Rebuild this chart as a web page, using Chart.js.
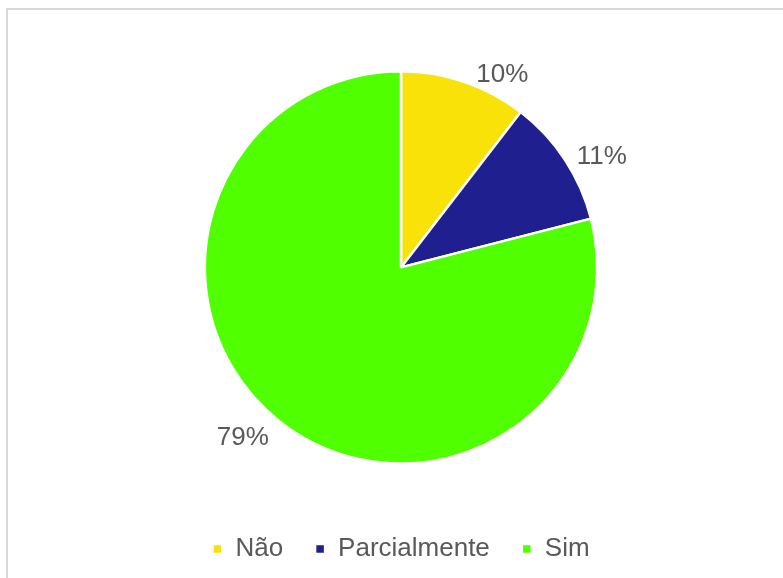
<!DOCTYPE html>
<html>
<head>
<meta charset="utf-8">
<script src="https://cdn.jsdelivr.net/npm/chart.js@4"></script>
<style>
  body { margin: 0; background: #fff; overflow: hidden; }
  #frame { position: absolute; left: 6px; top: 8px; width: 900px; height: 700px; border: 2px solid #d9d9d9; }
  #pieChart { position: absolute; left: 0; top: 0; }
</style>
</head>
<body>
<div id="frame"></div>
<canvas id="pieChart" width="783" height="578"></canvas>
<script>
// categories and values (percent)
var labels = ["Não", "Parcialmente", "Sim"];
var values = [10.45, 10.55, 79];
var colors = ["#f8e208", "#201f8f", "#50ff00"];

// draws the percentage next to each slice, outside the pie
var outsideLabels = {
    id: 'outsideLabels',
    afterDatasetsDraw: function (chart) {
        var ctx = chart.ctx;
        var meta = chart.getDatasetMeta(0);
        ctx.save();
        ctx.font = '26px "Liberation Sans", Arial, sans-serif';
        ctx.fillStyle = '#595959';
        ctx.textAlign = 'center';
        ctx.textBaseline = 'middle';
        meta.data.forEach(function (arc, i) {
            var mid = (arc.startAngle + arc.endAngle) / 2;
            var r = arc.outerRadius;
            var txt = Math.round(values[i]) + '%';
            var w = ctx.measureText(txt).width;
            var ex = arc.x + Math.cos(mid) * r;
            var ey = arc.y + Math.sin(mid) * r;
            var dx = (Math.cos(mid) >= 0 ? 1 : -1) * (w / 2 + 12);
            var dy = Math.sin(mid) * 13 + 5;
            ctx.fillText(txt, ex + dx, ey + dy);
        });
        ctx.restore();
    }
};

var ctxPie = document.getElementById('pieChart').getContext('2d');
var pieChart = new Chart(ctxPie, {
    type: 'pie',
    data: {
        labels: labels,
        datasets: [{
            data: values,
            backgroundColor: colors,
            borderColor: '#ffffff',
            borderWidth: 2.5
        }]
    },
    options: {
        responsive: false,
        animation: false,
        devicePixelRatio: 1,
        layout: {
            padding: { top: 70, bottom: 6, left: 19, right: 0 }
        },
        plugins: {
            legend: {
                position: 'bottom',
                // empty title only used as a spacer between pie and legend
                title: {
                    display: true,
                    text: ' ',
                    padding: { top: 19, bottom: 19 },
                    font: { size: 1 }
                },
                labels: {
                    boxWidth: 10,
                    boxHeight: 10,
                    padding: 32,
                    color: '#595959',
                    font: { family: '"Liberation Sans", Arial, sans-serif', size: 26 }
                }
            },
            tooltip: { enabled: false }
        }
    },
    plugins: [outsideLabels]
});
</script>
</body>
</html>
